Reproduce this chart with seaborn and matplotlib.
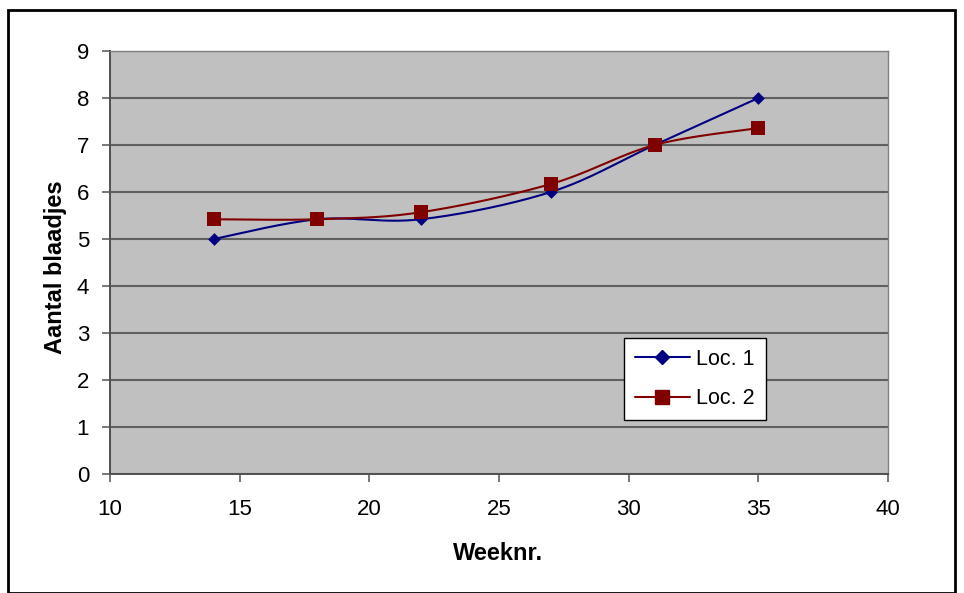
import matplotlib
matplotlib.use('Agg')
import matplotlib.pyplot as plt
import numpy as np
import pandas as pd
import seaborn as sns
from matplotlib.patches import Rectangle

# Week numbers and leaf counts per location
weeks = [14, 18, 22, 27, 31, 35]
loc1 = [5.0, 5.42, 5.42, 6.0, 7.0, 8.0]
loc2 = [5.42, 5.42, 5.57, 6.17, 7.0, 7.36]
series_names = ['Loc. 1', 'Loc. 2']


def smooth(x, y, n=30):
    # Excel-like smoothed line (Catmull-Rom as cubic bezier)
    x = np.asarray(x, float)
    y = np.asarray(y, float)
    px = np.concatenate([[x[0]], x, [x[-1]]])
    py = np.concatenate([[y[0]], y, [y[-1]]])
    xs, ys = [], []
    t = np.linspace(0, 1, n)
    for i in range(1, len(px) - 2):
        p0 = np.array([px[i], py[i]])
        p3 = np.array([px[i + 1], py[i + 1]])
        p1 = p0 + (np.array([px[i + 1], py[i + 1]]) - np.array([px[i - 1], py[i - 1]])) / 6
        p2 = p3 - (np.array([px[i + 2], py[i + 2]]) - np.array([px[i], py[i]])) / 6
        b = ((1 - t) ** 3)[:, None] * p0 + (3 * (1 - t) ** 2 * t)[:, None] * p1 \
            + (3 * (1 - t) * t ** 2)[:, None] * p2 + (t ** 3)[:, None] * p3
        xs.extend(b[:, 0])
        ys.extend(b[:, 1])
    return np.array(xs), np.array(ys)


sns.set_style('white')
plt.rcParams['font.family'] = ['Liberation Sans', 'DejaVu Sans']
plt.rcParams['text.color'] = 'black'
plt.rcParams['axes.labelcolor'] = 'black'

fig = plt.figure(figsize=(9.64, 5.93), dpi=100)
ax = fig.add_axes([110 / 964, 1 - 474 / 593, 778 / 964, 423 / 593])
ax.set_facecolor('#C0C0C0')

colors = ['#000080', '#800000']
markers = ['D', 's']
msizes = [6.5, 10]

for vals, name, c, m, ms in zip([loc1, loc2], series_names, colors, markers, msizes):
    sx, sy = smooth(weeks, vals)
    sns.lineplot(x=sx, y=sy, ax=ax, color=c, lw=1.5, sort=False, estimator=None)
    df = pd.DataFrame({'week': weeks, 'val': vals})
    sns.scatterplot(data=df, x='week', y='val', ax=ax, color=c, marker=m, s=ms ** 2,
                    edgecolor=c, linewidth=0, zorder=5)
    ax.plot([], [], color=c, marker=m, ms=ms * 1.05, lw=1.5, label=name)

ax.set_xlim(10, 40)
ax.set_ylim(0, 9)
ax.set_xticks(range(10, 41, 5))
ax.set_yticks(range(0, 10))
ax.grid(True, axis='y', color='#606060', lw=1.5)
ax.set_axisbelow(True)

for s in ['top', 'right']:
    ax.spines[s].set_color('#808080')
    ax.spines[s].set_linewidth(1)
for s in ['left', 'bottom']:
    ax.spines[s].set_color('#505050')
    ax.spines[s].set_linewidth(1.4)

ax.tick_params(axis='both', which='both', direction='out', length=6, width=1.2,
               color='#606060', labelcolor='black', labelsize=16, bottom=True, left=True)
ax.tick_params(axis='x', pad=12)
ax.tick_params(axis='y', pad=9)
ax.set_xlabel('Weeknr.', fontsize=17, fontweight='bold', va='center')
ax.set_ylabel('Aantal blaadjes', fontsize=17, fontweight='bold', va='center')
ax.xaxis.set_label_coords(0.4987, (474 - 553) / 423)
ax.yaxis.set_label_coords((56 - 110) / 778, 0.49)

leg = ax.legend(loc='upper left', bbox_to_anchor=((624 - 110) / 778, (474 - 338) / 423),
                frameon=True, fancybox=False, fontsize=15.5, handlelength=2.55,
                borderpad=0.5, borderaxespad=0, labelspacing=0.85, handletextpad=0.3)
leg.get_frame().set_edgecolor('black')
leg.get_frame().set_facecolor('white')
leg.get_frame().set_alpha(1)
leg.get_frame().set_linewidth(1)

fig.patches.append(Rectangle((8 / 964, 0), 947 / 964, 1 - 10 / 593, transform=fig.transFigure,
                             fill=False, edgecolor='black', lw=2))

fig.savefig('out.png', dpi=100, facecolor='white')
